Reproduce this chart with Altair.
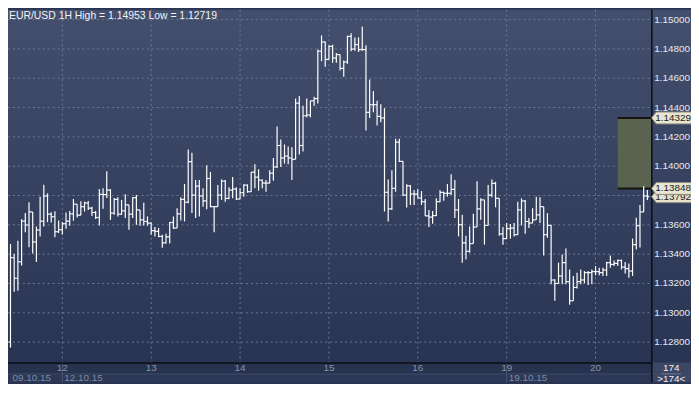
import altair as alt
import pandas as pd

# ---------------- data ----------------
high = [
    1.13470, 1.13403, 1.13492, 1.13639, 1.13680, 1.13754, 1.13688, 1.13589, 1.13791, 1.13873,  # 0
    1.13815, 1.13686, 1.13693, 1.13629, 1.13620, 1.13684, 1.13695, 1.13776, 1.13741, 1.13761,  # 10
    1.13758, 1.13763, 1.13724, 1.13695, 1.13844, 1.13849, 1.13966, 1.13844, 1.13783, 1.13788,  # 20
    1.13770, 1.13808, 1.13736, 1.13788, 1.13803, 1.13702, 1.13751, 1.13657, 1.13616, 1.13585,  # 30
    1.13578, 1.13533, 1.13540, 1.13619, 1.13657, 1.13714, 1.13788, 1.13878, 1.14114, 1.14092,  # 40
    1.13905, 1.13905, 1.13849, 1.14006, 1.13961, 1.13729, 1.13871, 1.13910, 1.13905, 1.13856,  # 50
    1.13927, 1.13856, 1.13849, 1.13876, 1.13876, 1.13961, 1.14013, 1.13979, 1.13910, 1.13905,  # 60
    1.13972, 1.14056, 1.14270, 1.14182, 1.14148, 1.14135, 1.14130, 1.14461, 1.14479, 1.14412,  # 70
    1.14461, 1.14446, 1.14473, 1.14795, 1.14892, 1.14851, 1.14824, 1.14829, 1.14772, 1.14761,  # 80
    1.14721, 1.14890, 1.14907, 1.14878, 1.14878, 1.14953, 1.14824, 1.14592, 1.14513, 1.14446,  # 90
    1.14423, 1.14396, 1.13910, 1.13972, 1.14187, 1.14187, 1.14013, 1.13876, 1.13871, 1.13837,  # 100
    1.13842, 1.13830, 1.13776, 1.13702, 1.13695, 1.13781, 1.13837, 1.13826, 1.13878, 1.13945,  # 110
    1.13905, 1.13776, 1.13668, 1.13526, 1.13589, 1.13675, 1.13898, 1.13781, 1.13770, 1.13871,  # 120
    1.13910, 1.13893, 1.13781, 1.13585, 1.13612, 1.13605, 1.13612, 1.13758, 1.13781, 1.13770,  # 130
    1.13646, 1.13714, 1.13792, 1.13788, 1.13691, 1.13680, 1.13601, 1.13229, 1.13342, 1.13398,  # 140
    1.13438, 1.13296, 1.13251, 1.13274, 1.13296, 1.13285, 1.13285, 1.13296, 1.13319, 1.13308,  # 150
    1.13308, 1.13349, 1.13391, 1.13357, 1.13364, 1.13364, 1.13346, 1.13337, 1.13506, 1.13648,  # 160
    1.13736, 1.13864, 1.13837,                                                                  # 170
]
low = [
    1.12763, 1.13143, 1.13150, 1.13323, 1.13549, 1.13447, 1.13405, 1.13346, 1.13521, 1.13589,
    1.13618, 1.13616, 1.13515, 1.13544, 1.13535, 1.13574, 1.13594, 1.13628, 1.13650, 1.13686,
    1.13691, 1.13702, 1.13661, 1.13639, 1.13596, 1.13709, 1.13783, 1.13634, 1.13668, 1.13657,
    1.13668, 1.13646, 1.13567, 1.13646, 1.13601, 1.13594, 1.13596, 1.13594, 1.13533, 1.13521,
    1.13515, 1.13443, 1.13472, 1.13472, 1.13572, 1.13578, 1.13629, 1.13623, 1.13747, 1.13680,
    1.13646, 1.13657, 1.13724, 1.13707, 1.13720, 1.13549, 1.13724, 1.13770, 1.13758, 1.13774,
    1.13781, 1.13770, 1.13781, 1.13792, 1.13819, 1.13844, 1.13849, 1.13833, 1.13849, 1.13826,
    1.13883, 1.13900, 1.13988, 1.13995, 1.14018, 1.14013, 1.13905, 1.14047, 1.14079, 1.14101,
    1.14333, 1.14333, 1.14412, 1.14427, 1.14716, 1.14678, 1.14728, 1.14705, 1.14705, 1.14653,
    1.14610, 1.14698, 1.14784, 1.14788, 1.14779, 1.14788, 1.14243, 1.14329, 1.14367, 1.14277,
    1.14299, 1.13691, 1.13623, 1.13702, 1.13826, 1.14029, 1.13797, 1.13718, 1.13736, 1.13736,
    1.13781, 1.13736, 1.13661, 1.13585, 1.13607, 1.13661, 1.13754, 1.13765, 1.13792, 1.13803,
    1.13646, 1.13521, 1.13342, 1.13364, 1.13409, 1.13477, 1.13589, 1.13634, 1.13465, 1.13601,
    1.13788, 1.13720, 1.13526, 1.13465, 1.13511, 1.13506, 1.13521, 1.13589, 1.13596, 1.13540,
    1.13578, 1.13612, 1.13668, 1.13612, 1.13391, 1.13511, 1.13195, 1.13082, 1.13224, 1.13195,
    1.13195, 1.13055, 1.13098, 1.13166, 1.13195, 1.13202, 1.13190, 1.13195, 1.13256, 1.13256,
    1.13251, 1.13251, 1.13308, 1.13319, 1.13319, 1.13296, 1.13269, 1.13240, 1.13251, 1.13432,
    1.13445, 1.13702, 1.13770,
]
close_ = [
    1.13376, 1.13236, 1.13348, 1.13625, 1.13599, 1.13688, 1.13483, 1.13565, 1.13625, 1.13797,
    1.13673, 1.13655, 1.13553, 1.13567, 1.13608, 1.13625, 1.13675, 1.13741, 1.13666, 1.13724,
    1.13749, 1.13714, 1.13684, 1.13650, 1.13808, 1.13806, 1.13837, 1.13680, 1.13774, 1.13673,
    1.13695, 1.13736, 1.13673, 1.13785, 1.13702, 1.13634, 1.13623, 1.13612, 1.13560, 1.13556,
    1.13521, 1.13477, 1.13518, 1.13616, 1.13578, 1.13675, 1.13774, 1.13754, 1.14031, 1.13803,
    1.13864, 1.13797, 1.13763, 1.13916, 1.13724, 1.13724, 1.13803, 1.13898, 1.13781, 1.13837,
    1.13844, 1.13776, 1.13819, 1.13871, 1.13826, 1.13959, 1.13925, 1.13905, 1.13885, 1.13885,
    1.13952, 1.13995, 1.14141, 1.14056, 1.14069, 1.14056, 1.14047, 1.14430, 1.14141, 1.14344,
    1.14349, 1.14446, 1.14461, 1.14784, 1.14847, 1.14728, 1.14817, 1.14738, 1.14761, 1.14667,
    1.14711, 1.14885, 1.14799, 1.14829, 1.14795, 1.14795, 1.14367, 1.14419, 1.14419, 1.14340,
    1.14329, 1.13822, 1.13709, 1.13849, 1.14164, 1.14033, 1.13803, 1.13866, 1.13810, 1.13810,
    1.13783, 1.13758, 1.13661, 1.13653, 1.13663, 1.13758, 1.13822, 1.13815, 1.13815, 1.13842,
    1.13702, 1.13601, 1.13477, 1.13420, 1.13472, 1.13585, 1.13709, 1.13770, 1.13596, 1.13803,
    1.13883, 1.13781, 1.13538, 1.13506, 1.13574, 1.13578, 1.13533, 1.13702, 1.13763, 1.13623,
    1.13612, 1.13634, 1.13668, 1.13724, 1.13533, 1.13596, 1.13224, 1.13200, 1.13251, 1.13342,
    1.13213, 1.13082, 1.13173, 1.13213, 1.13224, 1.13274, 1.13274, 1.13281, 1.13281, 1.13274,
    1.13292, 1.13342, 1.13330, 1.13337, 1.13357, 1.13312, 1.13301, 1.13285, 1.13465, 1.13594,
    1.13688, 1.13797, 1.13792,
]
open_ = [
    1.12801, 1.13376, 1.13236, 1.13348, 1.13625, 1.13599, 1.13688, 1.13483, 1.13565, 1.13625,
    1.13797, 1.13673, 1.13655, 1.13553, 1.13567, 1.13608, 1.13625, 1.13675, 1.13741, 1.13666,
    1.13724, 1.13749, 1.13714, 1.13684, 1.13650, 1.13808, 1.13806, 1.13837, 1.13680, 1.13774,
    1.13673, 1.13695, 1.13736, 1.13673, 1.13785, 1.13702, 1.13634, 1.13623, 1.13612, 1.13560,
    1.13556, 1.13521, 1.13477, 1.13518, 1.13616, 1.13578, 1.13675, 1.13774, 1.13754, 1.14031,
    1.13803, 1.13864, 1.13797, 1.13763, 1.13916, 1.13724, 1.13724, 1.13803, 1.13898, 1.13781,
    1.13837, 1.13844, 1.13776, 1.13819, 1.13871, 1.13826, 1.13959, 1.13925, 1.13905, 1.13885,
    1.13885, 1.13952, 1.13995, 1.14141, 1.14056, 1.14069, 1.14056, 1.14047, 1.14430, 1.14141,
    1.14344, 1.14349, 1.14446, 1.14461, 1.14784, 1.14847, 1.14728, 1.14817, 1.14738, 1.14761,
    1.14667, 1.14711, 1.14885, 1.14799, 1.14829, 1.14795, 1.14795, 1.14367, 1.14419, 1.14419,
    1.14340, 1.14329, 1.13822, 1.13709, 1.13849, 1.14164, 1.14033, 1.13803, 1.13866, 1.13810,
    1.13810, 1.13783, 1.13758, 1.13661, 1.13653, 1.13663, 1.13758, 1.13822, 1.13815, 1.13815,
    1.13842, 1.13702, 1.13601, 1.13477, 1.13420, 1.13472, 1.13585, 1.13709, 1.13770, 1.13596,
    1.13803, 1.13883, 1.13781, 1.13538, 1.13506, 1.13574, 1.13578, 1.13533, 1.13702, 1.13763,
    1.13623, 1.13612, 1.13634, 1.13668, 1.13724, 1.13533, 1.13596, 1.13224, 1.13200, 1.13251,
    1.13342, 1.13213, 1.13082, 1.13173, 1.13213, 1.13224, 1.13274, 1.13274, 1.13281, 1.13281,
    1.13274, 1.13292, 1.13342, 1.13330, 1.13337, 1.13357, 1.13312, 1.13301, 1.13285, 1.13465,
    1.13594, 1.13688, 1.13797,
]

price_ticks = [1.128, 1.130, 1.132, 1.134, 1.136, 1.138, 1.140, 1.142, 1.144, 1.146, 1.148, 1.150]
day_ticks = [14, 38, 62, 86, 110, 134, 158]
day_labels = ["12", "13", "14", "15", "16", "19", "20"]
week_ticks = [14, 134]
date_pos = [0, 14, 134]
date_labels = ["09.10.15", "12.10.15", "19.10.15"]
title_text = "EUR/USD 1H High = 1.14953 Low = 1.12719"
box_start = 164
box_top = 1.14329
box_bottom = 1.13848
level_tags = [1.14329, 1.13848]
bid_tag = [1.13792]
count_top = "174"
count_bottom = ">174<"

# ---------------- layout ----------------
W, H = 649, 356
TW, TH = 689, 376
FONT = "Liberation Sans"

xs = alt.Scale(domain=[-0.67, 173.07], nice=False, zero=False)
ys = alt.Scale(domain=[1.12661, 1.150676], nice=False, zero=False)

df = pd.DataFrame({"idx": list(range(len(close_))), "o": open_, "h": high, "l": low, "c": close_})
one = pd.DataFrame({"k": [0]})

grad = alt.Gradient(
    gradient="linear",
    stops=[alt.GradientStop(color="#434f6d", offset=0), alt.GradientStop(color="#283452", offset=1)],
    x1=0, x2=0, y1=0, y2=1,
)
bg = alt.Chart(one).mark_rect(color=grad).encode(
    x=alt.value(0), x2=alt.value(TW), y=alt.value(0), y2=alt.value(H))
row1 = alt.Chart(one).mark_rect(color="#26324e").encode(
    x=alt.value(0), x2=alt.value(W), y=alt.value(H), y2=alt.value(367))
row2 = alt.Chart(one).mark_rect(color="#2c3855").encode(
    x=alt.value(0), x2=alt.value(W), y=alt.value(367), y2=alt.value(TH))
row_sep = alt.Chart(one).mark_rule(color="#3f4b69", strokeWidth=1).encode(
    x=alt.value(0), x2=alt.value(W), y=alt.value(367.5))
rbox = alt.Chart(one).mark_rect(color="#3b4765").encode(
    x=alt.value(W), x2=alt.value(TW), y=alt.value(H), y2=alt.value(TH))

grid_h = alt.Chart(pd.DataFrame({"p": price_ticks})).mark_rule(
    color="#6c7997", strokeDash=[2, 3], strokeWidth=1).encode(
    y=alt.Y("p:Q", scale=ys, axis=None), x=alt.value(0), x2=alt.value(W - 2))
grid_v = alt.Chart(pd.DataFrame({"d": day_ticks})).mark_rule(
    color="#6c7997", strokeDash=[2, 3], strokeWidth=1).encode(
    x=alt.X("d:Q", scale=xs, axis=None), y=alt.value(0), y2=alt.value(H))
week_sep = alt.Chart(pd.DataFrame({"d": week_ticks})).mark_rule(
    color="#4b5775", strokeWidth=1).encode(
    x=alt.X("d:Q", scale=xs, axis=None), y=alt.value(H), y2=alt.value(TH))

box_df = pd.DataFrame({"x": [box_start], "t": [box_top], "b": [box_bottom]})
box = alt.Chart(box_df).mark_rect(color="#59634f").encode(
    x=alt.X("x:Q", scale=xs, axis=None), x2=alt.value(W),
    y=alt.Y("t:Q", scale=ys, axis=None), y2="b:Q")
box_edges = alt.Chart(pd.DataFrame({"x": [box_start, box_start], "p": [box_top, box_bottom]})).mark_rule(
    color="#15170f", strokeWidth=2).encode(
    x=alt.X("x:Q", scale=xs, axis=None), x2=alt.value(W),
    y=alt.Y("p:Q", scale=ys, axis=None))

base = alt.Chart(df).transform_calculate(
    lo="min(datum.l, datum.o, datum.c)",
    hi="max(datum.h, datum.o, datum.c)",
    xl="datum.idx - 0.5",
    xr="datum.idx + 0.5",
)
wick = base.mark_rule(color="#ffffff", strokeWidth=1.2).encode(
    x=alt.X("idx:Q", scale=xs, axis=None),
    y=alt.Y("lo:Q", scale=ys, axis=None), y2="hi:Q")
otick = base.mark_rule(color="#ffffff", strokeWidth=1.2).encode(
    x=alt.X("xl:Q", scale=xs, axis=None), x2="idx:Q",
    y=alt.Y("o:Q", scale=ys, axis=None))
ctick = base.mark_rule(color="#ffffff", strokeWidth=1.2).encode(
    x=alt.X("idx:Q", scale=xs, axis=None), x2="xr:Q",
    y=alt.Y("c:Q", scale=ys, axis=None))

vaxis = alt.Chart(one).mark_rule(color="#0b0e16", strokeWidth=1.5).encode(
    x=alt.value(W + 0.5), y=alt.value(0), y2=alt.value(TH))
haxis = alt.Chart(one).mark_rule(color="#0b0e16", strokeWidth=1.5).encode(
    x=alt.value(0), x2=alt.value(W), y=alt.value(H + 0.5))

plabels = alt.Chart(pd.DataFrame({"p": price_ticks})).mark_text(
    align="left", baseline="middle", font=FONT, fontSize=10, color="#e6e9ef").encode(
    x=alt.value(W + 3), y=alt.Y("p:Q", scale=ys, axis=None),
    text=alt.Text("p:Q", format=".5f"))

TAG = "M -3.3 0 L -2.5 -1 L 3.4 -1 L 3.4 1 L -2.5 1 Z"
bid_shape = alt.Chart(pd.DataFrame({"p": bid_tag})).mark_point(
    shape=TAG, size=144, filled=True, fill="#e4e1cd", stroke="#8e8c7c", strokeWidth=1, opacity=1).encode(
    x=alt.value(W + 20), y=alt.Y("p:Q", scale=ys, axis=None))
bid_text = alt.Chart(pd.DataFrame({"p": bid_tag})).mark_text(
    align="left", baseline="middle", font=FONT, fontSize=10, color="#1b1b1b").encode(
    x=alt.value(W + 4), y=alt.Y("p:Q", scale=ys, axis=None),
    text=alt.Text("p:Q", format=".5f"))
lvl_shape = alt.Chart(pd.DataFrame({"p": level_tags})).mark_point(
    shape=TAG, size=144, filled=True, fill="#e8e5d2", stroke="#8e8c7c", strokeWidth=1, opacity=1).encode(
    x=alt.value(W + 20), y=alt.Y("p:Q", scale=ys, axis=None))
lvl_text = alt.Chart(pd.DataFrame({"p": level_tags})).mark_text(
    align="left", baseline="middle", font=FONT, fontSize=10, color="#1b1b1b").encode(
    x=alt.value(W + 4), y=alt.Y("p:Q", scale=ys, axis=None),
    text=alt.Text("p:Q", format=".5f"))

title = alt.Chart(pd.DataFrame({"t": [title_text]})).mark_text(
    align="left", baseline="top", font=FONT, fontSize=10.5, color="#f2f4f8").encode(
    x=alt.value(1), y=alt.value(1), text="t:N")

dlabels = alt.Chart(pd.DataFrame({"d": day_ticks, "lab": day_labels})).mark_text(
    align="center", baseline="alphabetic", font=FONT, fontSize=10, color="#8892a9").encode(
    x=alt.X("d:Q", scale=xs, axis=None), y=alt.value(365), text="lab:N")
datelabels = alt.Chart(pd.DataFrame({"d": date_pos, "lab": date_labels})).mark_text(
    align="left", baseline="alphabetic", font=FONT, fontSize=10, color="#808ba1", dx=2).encode(
    x=alt.X("d:Q", scale=xs, axis=None), y=alt.value(375), text="lab:N")

cnt_top = alt.Chart(pd.DataFrame({"t": [count_top]})).mark_text(
    align="center", baseline="alphabetic", font=FONT, fontSize=10, color="#eef0f4").encode(
    x=alt.value(W + 20), y=alt.value(365), text="t:N")
cnt_sep = alt.Chart(one).mark_rule(color="#6f7a92", strokeWidth=1).encode(
    x=alt.value(W + 10), x2=alt.value(W + 30), y=alt.value(367.5))
cnt_bot = alt.Chart(pd.DataFrame({"t": [count_bottom]})).mark_text(
    align="center", baseline="alphabetic", font=FONT, fontSize=10, color="#eef0f4").encode(
    x=alt.value(W + 20), y=alt.value(375.5), text="t:N")

chart = alt.layer(
    bg, row1, row2, row_sep, rbox, grid_h, grid_v, week_sep,
    box, box_edges, wick, otick, ctick, vaxis, haxis,
    plabels, bid_shape, bid_text, lvl_shape, lvl_text,
    title, dlabels, datelabels, cnt_top, cnt_sep, cnt_bot,
).properties(
    width=W, height=H,
    padding={"left": 0, "top": 0, "right": TW - W, "bottom": TH - H},
    autosize=alt.AutoSizeParams(type="none"),
    background="#283452",
).configure_view(strokeWidth=0)

chart.save("out.html", embed_options={"renderer": "svg", "actions": False})
